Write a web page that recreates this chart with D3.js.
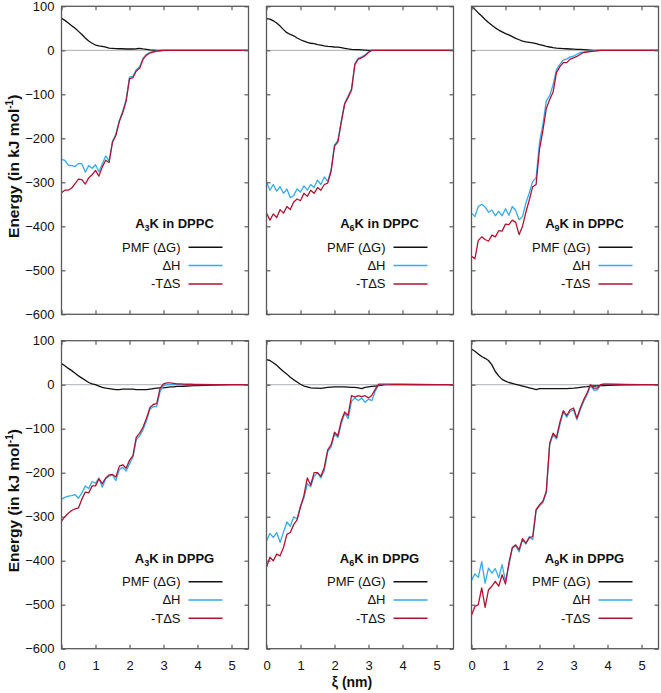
<!DOCTYPE html>
<html><head><meta charset="utf-8">
<script src="https://cdn.jsdelivr.net/npm/d3@7"></script>
<style>
body{margin:0;background:#fff}
svg{display:block}
text{font-family:"Liberation Sans",Arial,Helvetica,sans-serif;fill:#111}
</style>
</head><body>
<svg id="chart" width="661" height="693"></svg>
<script>
// ξ positions (nm)
const xi = [0,0.1,0.2,0.3,0.4,0.5,0.6,0.7,0.8,0.9,1.0,1.1,1.2,1.3,1.4,1.5,1.6,1.7,1.8,1.9,
            2.0,2.1,2.2,2.3,2.4,2.5,2.6,2.7,2.8,2.9,3.0,3.1,3.2,3.3,3.4,3.5,3.6,3.7,3.8,3.9,4.0,
            4.5,5.0,5.5];

// A3K in DPPC
const a3kDppcPMF = [73,68,62,56,50,43,36,28,21,16, 12,10,9,7,5,4.5,4,3.5,3.5,3, 3,3,3.5,4.5,3,2,1,0.5,0,0, 0,0,0,0,0,0,0,0,0,0,0, 0,0,0];
const a3kDppcDH  = [-248,-250,-261,-262,-264,-257,-258,-277,-262,-268, -260,-276,-258,-240,-252,-207,-190,-160,-138,-112, -61,-59,-44,-37,-18,-9,-5,-3,-1.5,-1, 0,0,0,0,0,0,0,0,0,0,0, 0,0,0];
const a3kDppcTS  = [-324,-318,-318,-313,-303,-293,-294,-304,-290,-283, -273,-286,-265,-250,-255,-209,-193,-162,-142,-116, -65,-62,-47,-41,-20,-11,-6,-4,-2,-1, 0,0,0,0,0,0,0,0,0,0,0, 0,0,0];

// A6K in DPPC
const a6kDppcPMF = [72,71,67,62,55,47,40,36,33,28, 24,21,18,16,15,13,12,10,9,8.5, 7.5,7,6,4.5,3,2,1.5,1.5,1,0.5, 0,0,0,0,0,0,0,0,0,0,0, 0,0,0];
const a6kDppcDH  = [-300,-318,-305,-320,-310,-325,-315,-335,-330,-315, -322,-308,-318,-305,-312,-295,-305,-288,-298,-272, -215,-205,-160,-120,-104,-88,-30,-18,-15,-10, -4,0,0,0,0,0,0,0,0,0,0, 0,0,0];
const a6kDppcTS  = [-370,-386,-372,-380,-362,-370,-355,-362,-345,-338, -342,-325,-332,-318,-325,-312,-318,-305,-302,-275, -218,-208,-163,-122,-107,-91,-32,-20,-17,-12, -5,0,0,0,0,0,0,0,0,0,0, 0,0,0];

// A9K in DPPC
const a9kDppcPMF = [100,93,85,78,70,63,57,51,46,42, 38,35,31,27,24,21,19,18,17,15, 13,11,9,7.5,6,5,4.5,4,3.5,3, 2.5,2,2,1.5,1,0.5,0,0,0,0,0, 0,0,0];
const a9kDppcDH  = [-370,-378,-355,-350,-356,-368,-363,-376,-366,-376, -360,-375,-355,-364,-385,-378,-347,-324,-298,-290, -210,-168,-115,-103,-78,-44,-32,-22,-20,-15, -13,-9,-5,-4,-3,-2,-1,0,0,0,0, 0,0,0];
const a9kDppcTS  = [-468,-474,-432,-424,-430,-434,-420,-424,-410,-411, -395,-396,-386,-391,-419,-400,-368,-340,-310,-305, -225,-182,-132,-112,-95,-50,-37,-28,-28,-20, -17,-14,-9,-5,-4,-3,-2,-1,0,0,0, 0,0,0];

// A3K in DPPG
const a3kDppgPMF = [48,43,37,32,26,20,15,10,5,2, 0,-3,-6,-8,-9,-10,-11,-11,-10,-10, -10,-10,-11,-11,-11,-11,-10,-9,-8,-7, -7,-6,-5,-5,-4,-4,-3.5,-3,-2.5,-2,-2, -1,0,0];
const a3kDppgDH  = [-260,-256,-253,-252,-250,-258,-246,-230,-236,-220, -224,-212,-233,-214,-208,-205,-218,-193,-188,-196, -180,-165,-125,-116,-102,-82,-56,-50,-50,-15, -2,0,0,0,0,0,0,0,0,0,0, 0,0,0];
const a3kDppgTS  = [-310,-300,-292,-286,-282,-280,-260,-244,-246,-230, -230,-214,-225,-212,-205,-204,-210,-185,-182,-190, -172,-161,-119,-110,-96,-76,-52,-45,-43,-8, 2,4,4,3,2,2,1.5,1,1,0.5,0.5, 0,0,0];

// A6K in DPPG
const a6kDppgPMF = [57,55,50,44,37,30,24,17,11,6, 1,-3,-5,-7,-8,-8,-8.5,-7,-6,-5.5, -5,-5,-5,-5,-5.5,-6,-6,-7,-9,-6, -5,-4,-3,-2,-1,0,0,0,0,0,0, 0,0,0];
const a6kDppgDH  = [-355,-338,-347,-336,-358,-335,-312,-322,-300,-305, -275,-258,-225,-232,-208,-200,-212,-195,-152,-142, -112,-120,-88,-65,-77,-38,-30,-36,-30,-40, -33,-36,-14,0,0,0,0,0,0,0,0, 0,0,0];
const a6kDppgTS  = [-415,-392,-400,-385,-389,-370,-340,-336,-318,-307, -278,-252,-212,-228,-200,-200,-208,-188,-148,-137, -108,-116,-82,-62,-70,-25,-28,-25,-27,-25, -30,-24,-10,1.5,1.5,1.5,1.5,1,1,1,1, 0.5,0,0];

// A9K in DPPG
const a9kDppgPMF = [81,76,70,64,60,55,45,30,20,12, 8,5,3,1,-1,-3,-5,-7,-9,-11, -9,-9,-9,-9,-9,-9,-9,-9,-9,-8.5, -8,-7,-6,-5,-4.5,-3.5,-3,-2.5,-2,-2,-1.5, -0.5,0,0];
const a9kDppgDH  = [-445,-430,-438,-402,-451,-417,-428,-418,-439,-409, -447,-410,-372,-366,-380,-352,-362,-345,-352,-286, -276,-268,-246,-136,-114,-123,-91,-62,-74,-61, -57,-80,-57,-38,-23,-2,-12,-12,0,1,1, 0,0,0];
const a9kDppgTS  = [-524,-504,-500,-462,-506,-466,-458,-447,-458,-432, -453,-405,-370,-364,-375,-350,-360,-348,-345,-284, -273,-265,-242,-133,-110,-120,-85,-59,-70,-57, -53,-76,-53,-34,-19,0,-8,-8,0,1.5,1.5, 0.5,0,0];

const yTicks = [100,0,-100,-200,-300,-400,-500,-600];
const xTicks = [0,1,2,3,4,5];
const legendLabels = ["PMF (\u0394G)", "\u0394H", "-T\u0394S"];
const seriesColors = ["#111111", "#33aaee", "#b3122e"];

const panels = [
  {n:"3", lipid:"DPPC", s:[a3kDppcPMF,a3kDppcDH,a3kDppcTS], col:0,row:0},
  {n:"6", lipid:"DPPC", s:[a6kDppcPMF,a6kDppcDH,a6kDppcTS], col:1,row:0},
  {n:"9", lipid:"DPPC", s:[a9kDppcPMF,a9kDppcDH,a9kDppcTS], col:2,row:0},
  {n:"3", lipid:"DPPG", s:[a3kDppgPMF,a3kDppgDH,a3kDppgTS], col:0,row:1},
  {n:"6", lipid:"DPPG", s:[a6kDppgPMF,a6kDppgDH,a6kDppgTS], col:1,row:1},
  {n:"9", lipid:"DPPG", s:[a9kDppgPMF,a9kDppgDH,a9kDppgTS], col:2,row:1}
];

const W = 187, H = 308;
const colX = [61.5, 266.5, 471.5];
const rowY = [6.3, 340.7];
const frameColor = "#5a5a5a";

const svg = d3.select("#chart");
const x = d3.scaleLinear().domain([0,5.5]).range([0,W]);
const y = d3.scaleLinear().domain([-600,100]).range([H,0]);

svg.append("defs").append("clipPath").attr("id","clip")
  .append("rect").attr("x",0).attr("y",0).attr("width",W).attr("height",H);

panels.forEach(p => {
  const g = svg.append("g").attr("transform",`translate(${colX[p.col]},${rowY[p.row]})`);
  g.append("line").attr("x1",0).attr("x2",W).attr("y1",y(0)).attr("y2",y(0))
    .attr("stroke","#b9bfc2").attr("stroke-width",1.3);
  const line = d3.line().x((d,i)=>x(xi[i])).y(d=>y(d));
  const lg = g.append("g").attr("clip-path","url(#clip)");
  p.s.forEach((arr,k) => {
    lg.append("path").datum(arr).attr("d",line).attr("fill","none")
      .attr("stroke",seriesColors[k]).attr("stroke-width",1.3).attr("stroke-linejoin","round");
  });
  const left = d3.axisLeft(y).tickValues(yTicks).tickSize(-4).tickPadding(7)
    .tickFormat(p.col===0 ? d3.format("d") : "");
  const right = d3.axisRight(y).tickValues(yTicks).tickSize(-4).tickFormat("");
  const bottom = d3.axisBottom(x).tickValues(xTicks).tickSize(-4).tickPadding(12)
    .tickFormat(p.row===1 ? d3.format("d") : "");
  const top = d3.axisTop(x).tickValues(xTicks).tickSize(-4).tickFormat("");
  const styleAxis = sel => {
    sel.select(".domain").remove();
    sel.selectAll(".tick line").attr("stroke",frameColor).attr("stroke-width",1.2);
    sel.selectAll(".tick text").attr("font-size",13).attr("fill","#111")
      .style("font-family","'Liberation Sans',Arial,sans-serif");
  };
  g.append("g").call(left).call(styleAxis);
  g.append("g").attr("transform",`translate(${W},0)`).call(right).call(styleAxis);
  g.append("g").attr("transform",`translate(0,${H})`).call(bottom).call(styleAxis);
  g.append("g").call(top).call(styleAxis);
  g.append("rect").attr("x",0).attr("y",0).attr("width",W).attr("height",H)
    .attr("fill","none").attr("stroke",frameColor).attr("stroke-width",1.3);

  const t = g.append("text").attr("x",W-74).attr("y",222).attr("text-anchor","middle")
    .attr("font-size",13).attr("font-weight","bold");
  t.append("tspan").text("A");
  t.append("tspan").attr("font-size",9).attr("dy",3).text(p.n);
  t.append("tspan").attr("dy",-3).text("K in " + p.lipid);
  legendLabels.forEach((lab,k) => {
    const ly = 241 + k*18.3;
    g.append("text").attr("x",W-68).attr("y",ly+4.5).attr("text-anchor","end")
      .attr("font-size",13).text(lab);
    g.append("line").attr("x1",W-60).attr("x2",W-26).attr("y1",ly).attr("y2",ly)
      .attr("stroke",seriesColors[k]).attr("stroke-width",1.5);
  });
});

[0,1].forEach(r => {
  const cy = rowY[r] + H/2 + 6;
  const t = svg.append("text").attr("transform",`translate(19,${cy}) rotate(-90)`)
    .attr("text-anchor","middle").attr("font-size",15.5).attr("font-weight","bold");
  t.append("tspan").text("Energy (in kJ mol");
  t.append("tspan").attr("font-size",10).attr("dy",-6).text("-1");
  t.append("tspan").attr("dy",6).text(")");
});

svg.append("text").attr("x",352).attr("y",687).attr("text-anchor","middle")
  .attr("font-size",14).attr("font-weight","bold").text("\u03be (nm)");
</script>
</body></html>
